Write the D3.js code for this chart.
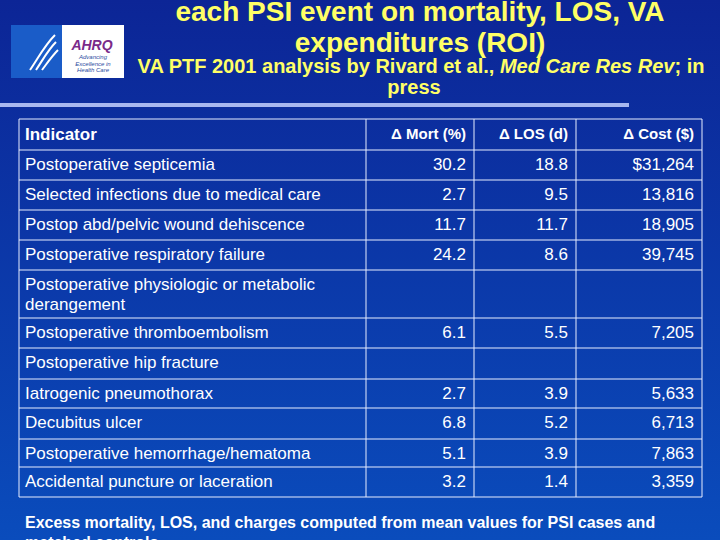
<!DOCTYPE html>
<html><head><meta charset="utf-8">
<script src="https://cdn.jsdelivr.net/npm/d3@7"></script>
<style>body{margin:0;background:#000}svg{display:block}</style>
</head><body>
<svg id="c" width="720" height="540"></svg>
<script>
// table content
var columns = ["Indicator", "\u0394 Mort (%)", "\u0394 LOS (d)", "\u0394 Cost ($)"];
var indicators = ["Postoperative septicemia", "Selected infections due to medical care",
  "Postop abd/pelvic wound dehiscence", "Postoperative respiratory failure",
  "Postoperative physiologic or metabolic|derangement", "Postoperative thromboembolism",
  "Postoperative hip fracture", "Iatrogenic pneumothorax", "Decubitus ulcer",
  "Postoperative hemorrhage/hematoma", "Accidental puncture or laceration"];
var mort = ["30.2", "2.7", "11.7", "24.2", "", "6.1", "", "2.7", "6.8", "5.1", "3.2"];
var los = ["18.8", "9.5", "11.7", "8.6", "", "5.5", "", "3.9", "5.2", "3.9", "1.4"];
var cost = ["$31,264", "13,816", "18,905", "39,745", "", "7,205", "", "5,633", "6,713", "7,863", "3,359"];
var rowHeights = [30, 30, 30, 30, 48, 30, 31, 29, 31, 28, 30];

var svg = d3.select("#c");
var defs = svg.append("defs");
var g = defs.append("linearGradient").attr("id", "bg").attr("x1", 0).attr("y1", 0).attr("x2", 0).attr("y2", 1);
g.append("stop").attr("offset", "0").attr("stop-color", "#0c2596");
g.append("stop").attr("offset", "1").attr("stop-color", "#0a4cbc");
svg.append("rect").attr("width", 720).attr("height", 540).attr("fill", "url(#bg)");

var font = "Liberation Sans, Arial, sans-serif";
var yellow = "#ffff66";

// title
svg.append("text").attr("x", 420).attr("y", 21).attr("text-anchor", "middle").attr("font-family", font)
  .attr("font-weight", "bold").attr("font-size", 28).attr("fill", yellow).text("each PSI event on mortality, LOS, VA");
svg.append("text").attr("x", 420).attr("y", 52).attr("text-anchor", "middle").attr("font-family", font)
  .attr("font-weight", "bold").attr("font-size", 28).attr("fill", yellow).text("expenditures (ROI)");
var sub = svg.append("text").attr("x", 421).attr("y", 73).attr("text-anchor", "middle").attr("font-family", font)
  .attr("font-weight", "bold").attr("font-size", 20).attr("fill", yellow);
sub.append("tspan").text("VA PTF 2001 analysis by Rivard et al., ");
sub.append("tspan").attr("font-style", "italic").text("Med Care Res Rev");
sub.append("tspan").text("; in");
svg.append("text").attr("x", 414).attr("y", 94).attr("text-anchor", "middle").attr("font-family", font)
  .attr("font-weight", "bold").attr("font-size", 20).attr("fill", yellow).text("press");
svg.append("rect").attr("x", 0).attr("y", 103).attr("width", 629).attr("height", 4).attr("fill", "#a8b8f0");

// logo
svg.append("rect").attr("x", 11).attr("y", 25).attr("width", 113).attr("height", 53).attr("fill", "#fff");
svg.append("rect").attr("x", 11).attr("y", 25).attr("width", 51).attr("height", 53).attr("fill", "#1a5cc8");
svg.append("path").attr("d", "M30,70 C40,55 45,45 55,35 M36,70 C44,58 48,50 56,42 M42,70 C48,62 52,56 58,50")
  .attr("stroke", "#fff").attr("stroke-width", 2).attr("fill", "none");
svg.append("text").attr("x", 92).attr("y", 50).attr("text-anchor", "middle").attr("font-family", font)
  .attr("font-weight", "bold").attr("font-style", "italic").attr("font-size", 14).attr("fill", "#7a2a8a").text("AHRQ");
["Advancing", "Excellence in", "Health Care"].forEach(function (t, i) {
  svg.append("text").attr("x", 93).attr("y", 59 + i * 6.5).attr("text-anchor", "middle").attr("font-family", font)
    .attr("font-style", "italic").attr("font-size", 6).attr("fill", "#2a4aa0").text(t);
});

// table
var colEdges = [19, 366, 474, 576, 702];
var tableTop = 119, headerH = 31;
var rowTops = [tableTop + headerH];
rowHeights.forEach(function (h, i) { rowTops.push(rowTops[i] + h); });
var bottom = rowTops[rowTops.length - 1];
var stroke = "#e6ecff";
function hline(y) { svg.append("line").attr("x1", colEdges[0]).attr("x2", colEdges[4]).attr("y1", y).attr("y2", y).attr("stroke", stroke); }
hline(tableTop); rowTops.forEach(hline);
colEdges.forEach(function (x) {
  svg.append("line").attr("x1", x).attr("x2", x).attr("y1", tableTop).attr("y2", bottom).attr("stroke", stroke);
});
// header
svg.append("text").attr("x", 25).attr("y", tableTop + 21).attr("font-family", font).attr("font-weight", "bold")
  .attr("font-size", 17).attr("fill", "#fff").text(columns[0]);
columns.slice(1).forEach(function (c, i) {
  svg.append("text").attr("x", colEdges[i + 2] - 8).attr("y", tableTop + 20).attr("text-anchor", "end").attr("font-family", font)
    .attr("font-weight", "bold").attr("font-size", 15).attr("fill", "#fff").text(c);
});
indicators.forEach(function (name, i) {
  var y0 = rowTops[i];
  name.split("|").forEach(function (part, k) {
    svg.append("text").attr("x", 25).attr("y", y0 + 20 + k * 20).attr("font-family", font)
      .attr("font-size", 17).attr("fill", "#fff").text(part);
  });
  [mort[i], los[i], cost[i]].forEach(function (v, j) {
    svg.append("text").attr("x", colEdges[j + 2] - 8).attr("y", y0 + 20).attr("text-anchor", "end")
      .attr("font-family", font).attr("font-size", 17).attr("fill", "#fff").text(v);
  });
});
svg.append("text").attr("x", 25).attr("y", 528).attr("font-family", font).attr("font-weight", "bold")
  .attr("font-size", 16).attr("fill", "#fff").text("Excess mortality, LOS, and charges computed from mean values for PSI cases and");
svg.append("text").attr("x", 25).attr("y", 548).attr("font-family", font).attr("font-weight", "bold")
  .attr("font-size", 16).attr("fill", "#fff").text("matched controls");
</script>
</body></html>
